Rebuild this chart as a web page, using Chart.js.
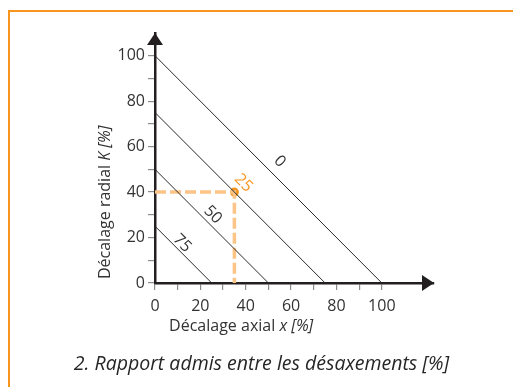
<!DOCTYPE html>
<html lang="fr">
<head>
  <meta charset="UTF-8" />
  <title>Rapport admis entre les désaxements</title>
  <script src="https://cdn.jsdelivr.net/npm/chart.js"></script>
  <style>
    html, body { margin: 0; background: #fff; font-family: "Open Sans", sans-serif; overflow: hidden; }
    .page { position: relative; width: 513px; height: 387px; overflow: hidden; }
    .frame { position: absolute; left: 8px; top: 10px; width: 520px; height: 400px;
             border-left: 2px solid #f7941d; border-top: 2px solid #f7941d; }
    canvas { position: absolute; left: 0; top: 0; }
    .caption { position: absolute; left: 10px; right: 0; top: 349px; text-align: center;
               font-style: italic; font-size: 19.5px; color: #262626; }
  </style>
</head>
<body>
  <div class="page">
    <div class="frame"></div>
    <canvas id="chart" width="513" height="387"></canvas>
    <div class="caption">2. Rapport admis entre les désaxements [%]</div>
  </div>

  <script>
    // courbes de désaxement angulaire admis
    const angleLabels = ['0', '25', '50', '75'];
    const startK = [100, 75, 50, 25];   // K à x = 0
    const endX = [100, 75, 50, 25];     // x à K = 0
    // point d'exemple
    const pointX = 35;
    const pointK = 40;
    const tickValues = [0, 20, 40, 60, 80, 100];

    const ink = '#333333';
    const orange = '#f7941d';
    const FONT = '"Open Sans", sans-serif';

    const lines = angleLabels.map((lab, i) => ({
      label: lab,
      data: [{ x: 0, y: startK[i] }, { x: endX[i], y: 0 }],
      showLine: true, borderColor: '#2a2a2a', borderWidth: 1, pointRadius: 0
    }));

    const dashed = {
      label: 'guide',
      data: [{ x: 0, y: pointK }, { x: pointX, y: pointK }, { x: pointX, y: 0 }],
      showLine: true, borderColor: '#fcc487', borderWidth: 3.5,
      borderDash: [11, 4], pointRadius: 0
    };
    const point = {
      label: 'point',
      data: [{ x: pointX, y: pointK }],
      pointRadius: 4.5, pointBackgroundColor: orange, pointBorderWidth: 0
    };

    // libellés des courbes, placés le long de chaque droite
    const labelAnchors = [[55, 53.5], [39, 44], [25.5, 30], [12, 17.5]];

    function richText(ctx, parts, x, y, size) {
      let total = 0;
      parts.forEach(p => {
        ctx.font = (p[1] ? 'italic ' : '') + size + 'px ' + FONT;
        total += ctx.measureText(p[0]).width;
      });
      let cx = x - total / 2;
      ctx.textAlign = 'left';
      parts.forEach(p => {
        ctx.font = (p[1] ? 'italic ' : '') + size + 'px ' + FONT;
        ctx.fillText(p[0], cx, y);
        cx += ctx.measureText(p[0]).width;
      });
    }

    const decor = {
      id: 'decor',
      afterDatasetsDraw(chart) {
        const { ctx, chartArea: a, scales: { x, y } } = chart;
        ctx.save();
        // flèches des axes
        ctx.fillStyle = '#231f20';
        ctx.beginPath();
        ctx.moveTo(a.left, a.top);
        ctx.lineTo(a.left - 8, a.top + 12);
        ctx.lineTo(a.left + 8, a.top + 12);
        ctx.closePath();
        ctx.fill();
        ctx.beginPath();
        ctx.moveTo(a.right, a.bottom);
        ctx.lineTo(a.right - 12, a.bottom - 8);
        ctx.lineTo(a.right - 12, a.bottom + 8);
        ctx.closePath();
        ctx.fill();

        // libellés des courbes
        ctx.textAlign = 'center';
        ctx.textBaseline = 'middle';
        ctx.font = '16px ' + FONT;
        angleLabels.forEach((lab, i) => {
          const px = x.getPixelForValue(labelAnchors[i][0]);
          const py = y.getPixelForValue(labelAnchors[i][1]);
          ctx.save();
          ctx.translate(px, py);
          ctx.rotate(Math.PI / 4);
          ctx.fillStyle = lab === '25' ? orange : ink;
          ctx.fillText(lab, 0, 0);
          ctx.restore();
        });

        // titres des axes
        ctx.fillStyle = ink;
        ctx.textBaseline = 'middle';
        richText(ctx, [['Décalage axial ', false], ['x [%]', true]],
          x.getPixelForValue(38), a.bottom + 43, 16);
        ctx.save();
        ctx.translate(105, y.getPixelForValue(35.5));
        ctx.rotate(-Math.PI / 2);
        richText(ctx, [['Décalage radial ', false], ['K [%]', true]], 0, 0, 16);
        ctx.restore();
        ctx.restore();
      }
    };

    const keepTicks = scale => {
      scale.ticks = scale.ticks.filter(t => t.value <= 100);
    };
    const tickLabel = v => tickValues.includes(v) ? String(v) : '';

    new Chart(document.getElementById('chart'), {
      type: 'scatter',
      data: { datasets: [...lines, dashed, point] },
      options: {
        responsive: false,
        animation: false,
        layout: { padding: { top: 33, right: 79, left: 0, bottom: 0 } },
        plugins: { legend: { display: false }, tooltip: { enabled: false } },
        scales: {
          x: {
            type: 'linear', min: 0, max: 123,
            afterBuildTicks: keepTicks,
            afterFit: s => { s.height = 104; },
            border: { color: '#231f20', width: 2.5 },
            grid: { drawOnChartArea: false, drawTicks: true, tickLength: 7, color: '#8c8c8c', lineWidth: 1.2 },
            ticks: { stepSize: 10, autoSkip: false, maxRotation: 0, padding: 7, color: ink,
                     font: { family: FONT, size: 16 }, callback: tickLabel }
          },
          y: {
            type: 'linear', min: 0, max: 110,
            afterBuildTicks: keepTicks,
            afterFit: s => { s.width = 155; },
            border: { color: '#231f20', width: 2.5 },
            grid: { drawOnChartArea: false, drawTicks: true, tickLength: 7, color: '#8c8c8c', lineWidth: 1.2 },
            ticks: { stepSize: 10, autoSkip: false, padding: 3, color: ink,
                     font: { family: FONT, size: 16 }, callback: tickLabel }
          }
        }
      },
      plugins: [decor]
    });
  </script>
</body>
</html>
